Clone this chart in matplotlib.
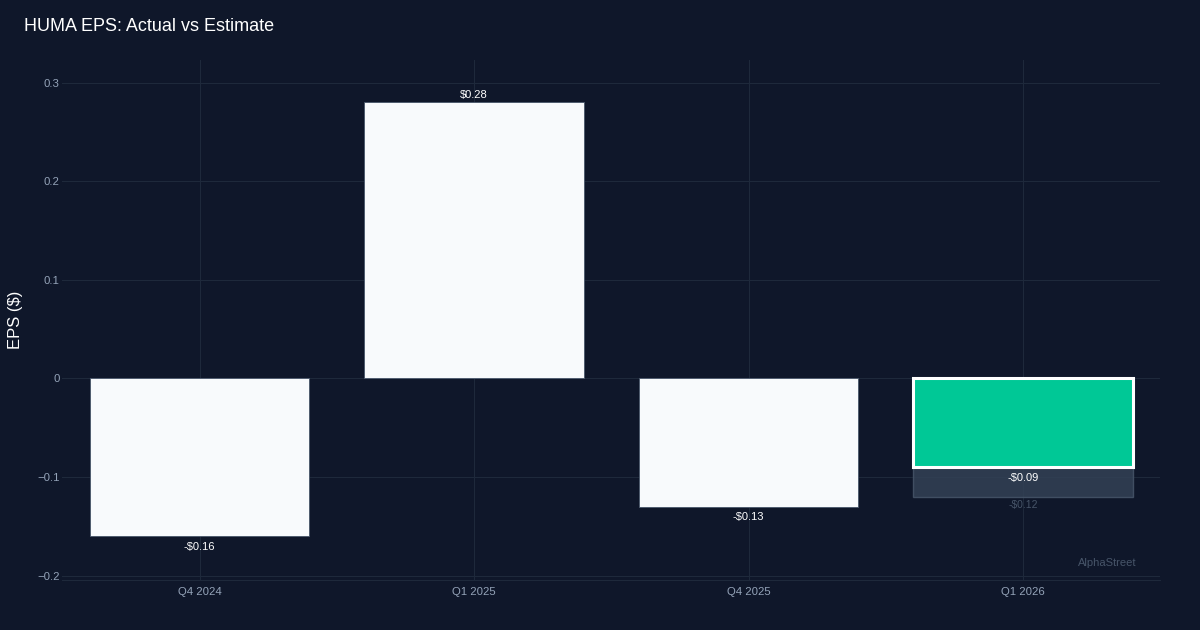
import numpy as np
import matplotlib.pyplot as plt

plt.rcParams['font.family'] = ['Liberation Sans', 'DejaVu Sans']

# dane
quarters = ['Q4 2024', 'Q1 2025', 'Q4 2025', 'Q1 2026']
eps_actual = [-0.16, 0.28, -0.13, -0.09]
eps_estimate = [None, None, None, -0.12]

BG = '#0f172a'
GRID = '#1e293b'
TXT = '#94a3b8'

fig = plt.figure(figsize=(12, 6.3), dpi=100, facecolor=BG)
ax = fig.add_axes([0.052, 0.08, 0.915, 0.825], facecolor=BG)

x = np.arange(len(quarters))
w = 0.8

# estymata (tylko tam gdzie jest)
for xi, est in zip(x, eps_estimate):
    if est is None:
        continue
    ax.bar(xi, est, width=w, color='#334155', alpha=0.85, edgecolor='#475569',
           linewidth=1, zorder=2)
    ax.text(xi, est - 0.003, f"-${abs(est):.2f}" if est < 0 else f"${est:.2f}",
            ha='center', va='top', fontsize=7.5, color='#475569', zorder=5)

# wartosci rzeczywiste
last = len(quarters) - 1
for xi, val in zip(x, eps_actual):
    if xi == last:
        ax.bar(xi, val, width=w, color='#00c896', edgecolor='white',
               linewidth=2.2, zorder=3)
    else:
        ax.bar(xi, val, width=w, color='#f8fafc', edgecolor='#475569',
               linewidth=0.6, zorder=3)
    lab = f"-${abs(val):.2f}" if val < 0 else f"${val:.2f}"
    if val < 0:
        ax.text(xi, val - 0.0055, lab, ha='center', va='top', fontsize=8,
                color='white', zorder=5)
    else:
        ax.text(xi, val + 0.002, lab, ha='center', va='bottom', fontsize=8,
                color='white', zorder=5)

ax.set_xlim(-0.5, 3.5)
ax.set_ylim(-0.204, 0.323)
ax.set_xticks(x)
ax.set_xticklabels(quarters)
ax.set_yticks([-0.2, -0.1, 0, 0.1, 0.2, 0.3])
ax.set_yticklabels(['\u22120.2', '\u22120.1', '0', '0.1', '0.2', '0.3'])
ax.tick_params(colors=TXT, labelsize=8.2, length=0, pad=2)
ax.tick_params(axis='x', pad=5)
ax.grid(True, color=GRID, linewidth=0.8, zorder=0)
ax.set_axisbelow(True)
for s in ['top', 'right', 'left']:
    ax.spines[s].set_visible(False)
ax.spines['bottom'].set_color(GRID)
ax.axhline(0, color=GRID, linewidth=0.8, zorder=1)

ax.set_ylabel('EPS ($)', color='white', fontsize=12, labelpad=10)
fig.text(0.02, 0.958, 'HUMA EPS: Actual vs Estimate', color='white',
         fontsize=13, ha='left', va='center')
ax.text(0.978, 0.032, 'AlphaStreet', transform=ax.transAxes, ha='right',
        va='center', fontsize=8, color='#475569')

fig.savefig('out.png', dpi=100, facecolor=BG)
